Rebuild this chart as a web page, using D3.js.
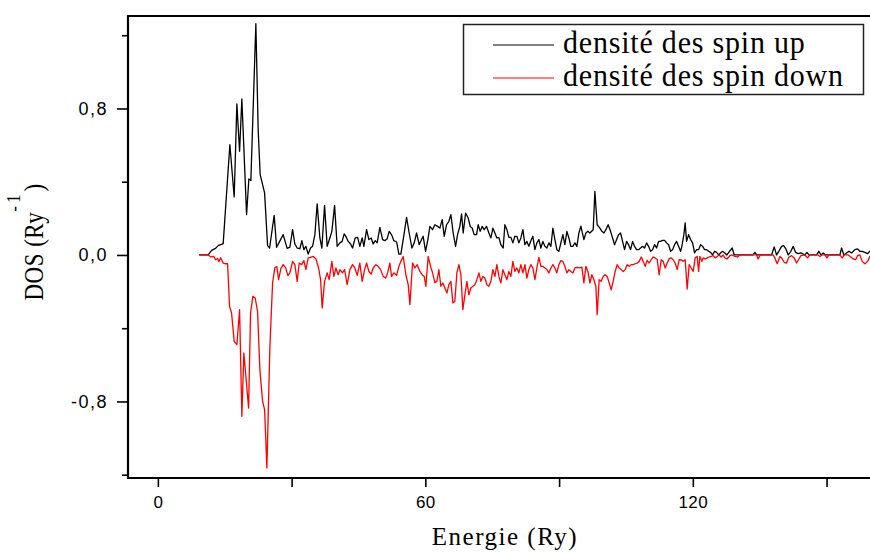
<!DOCTYPE html>
<meta charset="utf-8">
<style>
body { margin: 0; background: #fff; }
svg { display: block; }
.tick text { font-family: "Liberation Sans", Arial, sans-serif; fill: #000; }
.titre { font-family: "Liberation Serif", "Times New Roman", serif; fill: #000; }
</style>
<svg width="870" height="552"></svg>
<script src="https://d3js.org/d3.v7.min.js"></script>
<script>

// [energie (Ry), DOS (Ry^-1)]
var spinUp = [
[9.26,0],[11.28,0],[12.05,0.025],[12.94,0.036],[13.53,0.051],[14.65,0.062],[16.15,0.602],[17.12,0.317],
[17.72,0.825],[18.33,0.566],[18.84,0.852],[19.90,0.220],[20.41,0.415],[20.86,0.407],[21.98,1.263],[22.50,0.684],
[22.95,0.439],[23.94,0.339],[24.61,0.051],[25.06,0.038],[26.09,0.216],[26.63,0.042],[27.21,0.069],[28.11,0.111],
[29.00,0.036],[29.61,0.043],[30.22,0.138],[30.73,0.060],[31.25,0.038],[31.85,0.034],[32.30,0.078],[32.75,0.029],
[33.20,0.047],[33.72,0.005],[34.25,0.038],[34.70,0.047],[35.22,0.111],[35.73,0.279],[36.34,0.093],[36.79,0.038],
[37.39,0.271],[37.98,0.047],[38.58,0.093],[39.03,0.129],[39.64,0.271],[40.22,0.047],[40.83,0.066],[41.34,0.074],
[41.79,0.115],[42.17,0.102],[42.69,0.074],[43.23,0.060],[43.67,0.038],[44.26,0.093],[44.80,0.096],[45.31,0.047],
[45.83,0.093],[46.21,0.047],[46.82,0.138],[47.33,0.084],[47.85,0.093],[48.30,0.060],[48.75,0.078],[49.19,0.066],
[49.80,0.151],[50.41,0.084],[50.92,0.078],[51.44,0.089],[51.89,0.129],[52.42,0.111],[52.94,0.078],[53.55,0.071],
[54.06,0.005],[54.51,0.005],[55.03,0.084],[55.79,0.205],[56.37,0.120],[56.98,0.038],[57.50,0.066],[58.03,0.120],
[58.62,0.056],[59.15,0.084],[59.51,0.102],[60.05,0.020],[60.57,0.084],[61.02,0.156],[61.62,0.138],[62.14,0.165],
[62.74,0.156],[63.26,0.147],[63.78,0.193],[64.22,0.102],[64.76,0.165],[65.28,0.184],[65.73,0.220],[66.24,0.120],
[66.78,0.047],[67.23,0.111],[67.74,0.156],[68.13,0.224],[68.49,0.120],[69.03,0.229],[69.61,0.202],[70.06,0.156],
[70.50,0.147],[70.95,0.111],[71.49,0.111],[71.85,0.165],[72.30,0.129],[72.75,0.156],[73.20,0.138],[73.73,0.156],
[74.25,0.120],[74.70,0.093],[75.15,0.147],[75.60,0.120],[76.04,0.093],[76.49,0.096],[76.94,0.056],[77.46,0.038],
[77.84,0.165],[78.29,0.138],[78.74,0.096],[79.19,0.096],[79.63,0.066],[80.08,0.102],[80.53,0.102],[80.98,0.066],
[81.43,0.093],[81.88,0.138],[82.33,0.056],[82.77,0.074],[83.22,0.047],[83.67,0.078],[84.12,0.102],[84.57,0.029],
[85.02,0.066],[85.47,0.084],[85.91,0.038],[86.36,0.074],[86.81,0.047],[87.26,0.038],[87.71,0.066],[88.16,0.047],
[88.61,0.147],[89.06,0.084],[89.50,0.029],[89.95,0.020],[90.40,0.066],[90.85,0.111],[91.30,0.056],[91.75,0.129],
[92.20,0.093],[92.64,0.047],[93.09,0.047],[93.54,0.066],[93.99,0.047],[94.44,0.120],[94.89,0.157],[95.56,0.084],
[96.01,0.120],[96.46,0.129],[96.91,0.120],[97.65,0.138],[98.03,0.347],[98.54,0.165],[99.15,0.147],[99.60,0.129],
[100.05,0.120],[100.50,0.138],[101.01,0.165],[101.55,0.129],[102.00,0.093],[102.45,0.056],[102.90,0.084],[103.34,0.111],
[103.79,0.120],[104.24,0.074],[104.69,0.029],[105.14,0.074],[105.59,0.056],[106.04,0.029],[106.49,0.074],[106.93,0.047],
[107.38,0.029],[107.83,0.029],[108.28,0.038],[108.73,0.047],[109.18,0.038],[109.63,0.066],[110.07,0.047],[110.52,0.020],
[110.97,0.029],[111.42,0.056],[111.87,0.038],[112.32,0.074],[112.77,0.074],[113.21,0.080],[113.66,0.080],[114.11,0.066],
[114.56,0.056],[115.01,0.020],[115.46,0.029],[115.91,0.056],[116.36,0.074],[116.80,0.047],[117.25,0.020],[117.54,0.047],
[117.99,0.111],[118.28,0.175],[118.60,0.074],[119.05,0.111],[119.50,0.084],[119.94,0.066],[120.39,0.011],[120.84,0.029],
[121.29,0.029],[121.74,0.056],[122.19,0.047],[122.64,0.029],[123.09,0.029],[123.54,0.020],[123.98,0.014],[124.43,0],
[124.88,0.020],[125.33,0.014],[125.78,0],[126.22,0.011],[126.67,0.020],[127.19,0.011],[127.64,0],[128.83,0.038],
[129.28,0],[133.47,0],[133.92,0.014],[134.37,0],[137.67,0],[138.25,0.044],[138.79,0],[139.30,0.020],
[139.91,0.047],[140.36,0.051],[140.87,0.033],[141.39,0],[142.00,0.020],[142.51,0.047],[143.05,0.014],[143.63,0.007],
[144.24,0.011],[145.14,0],[145.59,0.014],[146.03,0],[147.76,0],[148.28,0.020],[148.73,0],[149.24,0.011],
[149.74,0],[152.99,0],[153.37,0.038],[153.88,0],[154.49,0.011],[155.01,0.020],[155.61,0.011],[156.35,0.029],
[156.96,0.033],[157.47,0.020],[157.99,0.020],[158.60,0.014],[159.20,0.007],[159.71,0.020],[161.5,0]
];

var spinDown = [
[9.26,0],[11.28,0],[11.89,-0.011],[12.56,-0.008],[12.94,-0.026],[13.39,-0.019],[13.68,-0.037],[14.07,-0.015],
[14.65,-0.044],[15.25,-0.048],[15.64,-0.048],[16.08,-0.281],[16.53,-0.317],[17.12,-0.472],[17.72,-0.490],[18.33,-0.299],
[18.84,-0.881],[19.29,-0.535],[20.35,-0.836],[20.79,-0.317],[21.31,-0.226],[21.83,-0.235],[22.36,-0.308],[22.88,-0.626],
[23.49,-0.800],[23.94,-0.845],[24.45,-1.163],[25.12,-0.508],[25.73,-0.153],[26.25,-0.069],[26.69,-0.064],[27.08,-0.135],
[27.59,-0.075],[28.11,-0.053],[28.65,-0.069],[29.16,-0.113],[29.61,-0.098],[30.22,-0.035],[30.73,-0.053],[31.25,-0.144],
[31.70,-0.044],[32.23,-0.053],[32.75,-0.031],[33.20,-0.080],[33.72,-0.016],[34.25,-0.013],[34.84,-0.008],[35.44,-0.020],
[36.05,-0.071],[36.50,-0.135],[36.86,-0.289],[37.39,-0.144],[37.98,-0.098],[38.43,-0.135],[39.03,-0.035],[39.48,-0.117],
[39.93,-0.071],[40.45,-0.108],[40.83,-0.080],[41.43,-0.098],[41.88,-0.080],[42.46,-0.162],[43.07,-0.080],[43.67,-0.053],
[44.19,-0.071],[44.71,-0.111],[45.31,-0.044],[45.83,-0.144],[46.37,-0.080],[46.82,-0.044],[47.33,-0.090],[47.85,-0.104],
[48.30,-0.071],[48.90,-0.053],[49.42,-0.062],[49.96,-0.080],[50.54,-0.117],[51.08,-0.126],[51.53,-0.098],[52.04,-0.044],
[52.42,-0.117],[52.94,-0.098],[53.55,-0.111],[54.06,-0.062],[54.51,-0.035],[55.03,-0.008],[55.63,-0.108],[56.15,-0.162],
[56.53,-0.271],[57.13,-0.044],[57.65,-0.071],[58.17,-0.053],[58.77,-0.090],[59.29,-0.108],[59.74,-0.117],[60.12,-0.171],
[60.63,-0.008],[61.17,-0.062],[61.62,-0.098],[62.14,-0.151],[62.59,-0.144],[63.03,-0.080],[63.48,-0.171],[63.93,-0.153],
[64.38,-0.180],[64.83,-0.208],[65.28,-0.162],[65.73,-0.144],[66.17,-0.262],[66.62,-0.253],[67.07,-0.098],[67.52,-0.053],
[67.97,-0.108],[68.42,-0.299],[68.87,-0.217],[69.32,-0.144],[69.76,-0.217],[70.21,-0.180],[70.66,-0.171],[71.11,-0.162],
[71.56,-0.135],[72.01,-0.098],[72.46,-0.144],[72.90,-0.117],[73.35,-0.126],[73.80,-0.162],[74.25,-0.171],[74.70,-0.144],
[75.15,-0.080],[75.60,-0.117],[76.04,-0.053],[76.49,-0.117],[76.94,-0.153],[77.39,-0.080],[77.84,-0.108],[78.29,-0.135],
[78.74,-0.090],[79.19,-0.117],[79.63,-0.035],[80.08,-0.090],[80.53,-0.071],[80.98,-0.098],[81.43,-0.053],[81.88,-0.098],
[82.33,-0.053],[82.77,-0.126],[83.22,-0.080],[83.67,-0.053],[84.12,-0.071],[84.57,-0.135],[85.02,-0.071],[85.47,-0.013],
[85.91,-0.062],[86.36,-0.062],[86.81,-0.071],[87.26,-0.080],[87.71,-0.098],[88.16,-0.071],[88.61,-0.053],[89.06,-0.071],
[89.50,-0.098],[89.95,-0.053],[90.40,-0.031],[90.85,-0.035],[91.30,-0.062],[91.75,-0.098],[92.20,-0.080],[92.64,-0.090],
[93.09,-0.098],[93.54,-0.071],[93.99,-0.068],[94.66,-0.071],[95.11,-0.066],[95.56,-0.153],[96.01,-0.062],[96.46,-0.090],
[96.91,-0.153],[97.35,-0.108],[97.80,-0.135],[98.25,-0.171],[98.54,-0.326],[98.99,-0.135],[99.44,-0.144],[99.89,-0.117],
[100.34,-0.108],[100.79,-0.117],[101.24,-0.153],[101.69,-0.190],[102.13,-0.144],[102.58,-0.090],[103.03,-0.053],[103.48,-0.071],
[103.93,-0.080],[104.38,-0.090],[104.83,-0.080],[105.28,-0.053],[105.72,-0.062],[106.17,-0.053],[106.62,-0.053],[107.07,-0.048],
[107.52,-0.044],[107.97,-0.035],[108.42,-0.011],[108.86,-0.035],[109.31,-0.062],[109.76,-0.029],[110.21,-0.044],[110.66,-0.026],
[111.11,-0.011],[111.56,-0.016],[112.01,-0.026],[112.45,-0.108],[112.90,-0.026],[113.35,-0.035],[113.80,-0.071],[114.25,-0.044],
[114.70,-0.020],[115.15,-0.016],[115.59,-0.026],[116.04,-0.044],[116.49,-0.080],[116.94,-0.026],[117.39,-0.026],[117.84,-0.035],
[118.28,-0.026],[118.73,-0.186],[119.18,-0.053],[119.63,-0.071],[120.08,-0.090],[120.53,-0.016],[120.98,-0.008],[121.29,-0.090],
[121.58,-0.008],[122.03,-0.035],[122.33,-0.016],[122.77,-0.022],[123.22,-0.016],[123.67,-0.011],[124.12,-0.008],[124.57,-0.004],
[125.01,-0.016],[125.46,-0.008],[125.91,0],[126.36,-0.011],[126.81,0],[127.19,-0.016],[127.64,-0.022],[128.31,-0.004],
[128.76,0],[129.43,-0.008],[130.04,-0.011],[130.55,0],[134.30,0],[134.66,-0.022],[135.10,0],[138.02,0],
[138.40,-0.016],[138.92,-0.048],[139.53,-0.008],[139.91,-0.016],[140.49,-0.040],[141.03,-0.044],[141.55,-0.011],[142.16,-0.004],
[142.74,-0.016],[143.27,-0.044],[143.79,-0.022],[144.24,-0.004],[145.14,0],[145.74,-0.016],[146.26,0],[148.05,0],
[148.50,-0.008],[148.95,0],[149.63,0],[150.07,-0.016],[150.52,0],[152.99,0],[153.50,-0.016],[154.00,0],
[154.85,0],[155.45,-0.011],[155.97,-0.022],[156.51,-0.026],[156.96,-0.004],[157.47,0],[157.99,-0.035],[158.60,-0.048],
[159.20,-0.035],[159.71,-0.008],[160.2,0]
];

var xMajor = [0, 60, 120], xMinor = [30, 90, 150];
var yMajor = [-0.8, 0, 0.8], yMinor = [-1.2, -0.4, 0.4, 1.2];
var legende = ["densité des spin up", "densité des spin down"];
var couleurs = ["#000000", "#ff0000"];

var svg = d3.select("svg");

var gauche = 128, haut = 16, bas = 478;
var xMin = -6.7, xMax = 166, yMin = -1.218, yMax = 1.305;

var x = d3.scaleLinear().domain([xMin, xMax]).range([gauche, gauche + (xMax - xMin) * 4.458]);
var y = d3.scaleLinear().domain([yMin, yMax]).range([bas, haut]);

var virgule = d => d.toFixed(1).replace(".", ",");

svg.append("clipPath").attr("id", "zone")
  .append("rect").attr("x", gauche).attr("y", haut).attr("width", 900).attr("height", bas - haut);

// courbes
var ligne = d3.line().x(d => x(d[0])).y(d => y(d[1]));
var g = svg.append("g").attr("clip-path", "url(#zone)");
[spinUp, spinDown].forEach((s, i) => {
  g.append("path").datum(s)
    .attr("fill", "none")
    .attr("stroke", couleurs[i])
    .attr("stroke-width", 1.3)
    .attr("stroke-linejoin", "round")
    .attr("d", ligne);
});

// axes
var ax = svg.append("g").attr("transform", "translate(0," + bas + ")");
ax.call(d3.axisBottom(x).tickValues(xMajor.concat(xMinor)).tickSize(9).tickPadding(9)
  .tickFormat(d => xMajor.includes(d) ? d : ""));
ax.selectAll(".tick text").style("font-size", "17px").style("letter-spacing", "0.5px");

svg.append("g").attr("transform", "translate(" + gauche + ",0)")
  .call(d3.axisLeft(y).tickValues(yMinor).tickSize(6).tickFormat(""));
var ay = svg.append("g").attr("transform", "translate(" + gauche + ",0)")
  .call(d3.axisLeft(y).tickValues(yMajor).tickSize(11).tickPadding(9).tickFormat(virgule));
ay.selectAll(".tick text").style("font-size", "18px").style("letter-spacing", "1.5px");

svg.selectAll(".domain").remove();
svg.selectAll(".tick line").attr("stroke", "#000").attr("stroke-width", 1.6);

// cadre
svg.append("path")
  .attr("d", "M900," + haut + "H" + gauche + "V" + bas + "H900")
  .attr("fill", "none").attr("stroke", "#000").attr("stroke-width", 2.2);

// titres
svg.append("text").attr("class", "titre")
  .attr("x", 505).attr("y", 545)
  .attr("text-anchor", "middle")
  .style("font-size", "25px").style("letter-spacing", "1.5px")
  .text("Energie (Ry)");

var yt = svg.append("text").attr("class", "titre")
  .attr("transform", "translate(43,242) rotate(-90) scale(1,1.15)")
  .attr("text-anchor", "middle")
  .style("font-size", "23px").style("letter-spacing", "0.5px");
yt.append("tspan").text("DOS (Ry");
yt.append("tspan").attr("dy", -20).style("font-size", "17px").style("letter-spacing", "3px").text("-1");
yt.append("tspan").attr("dy", 20).text(")");

// légende
var leg = svg.append("g");
leg.append("rect").attr("x", 463.5).attr("y", 24.5).attr("width", 400).attr("height", 70)
  .attr("fill", "#fff").attr("stroke", "#222").attr("stroke-width", 1.5);
legende.forEach((t, i) => {
  var yy = 45 + i * 33;
  leg.append("line").attr("x1", 493).attr("x2", 554).attr("y1", yy).attr("y2", yy)
    .attr("stroke", couleurs[i]).attr("stroke-width", 1);
  leg.append("text").attr("class", "titre")
    .attr("transform", "translate(563," + (yy + 8) + ") scale(1,1.05)")
    .style("font-size", "30px").style("letter-spacing", "0.8px")
    .text(t);
});

</script>
